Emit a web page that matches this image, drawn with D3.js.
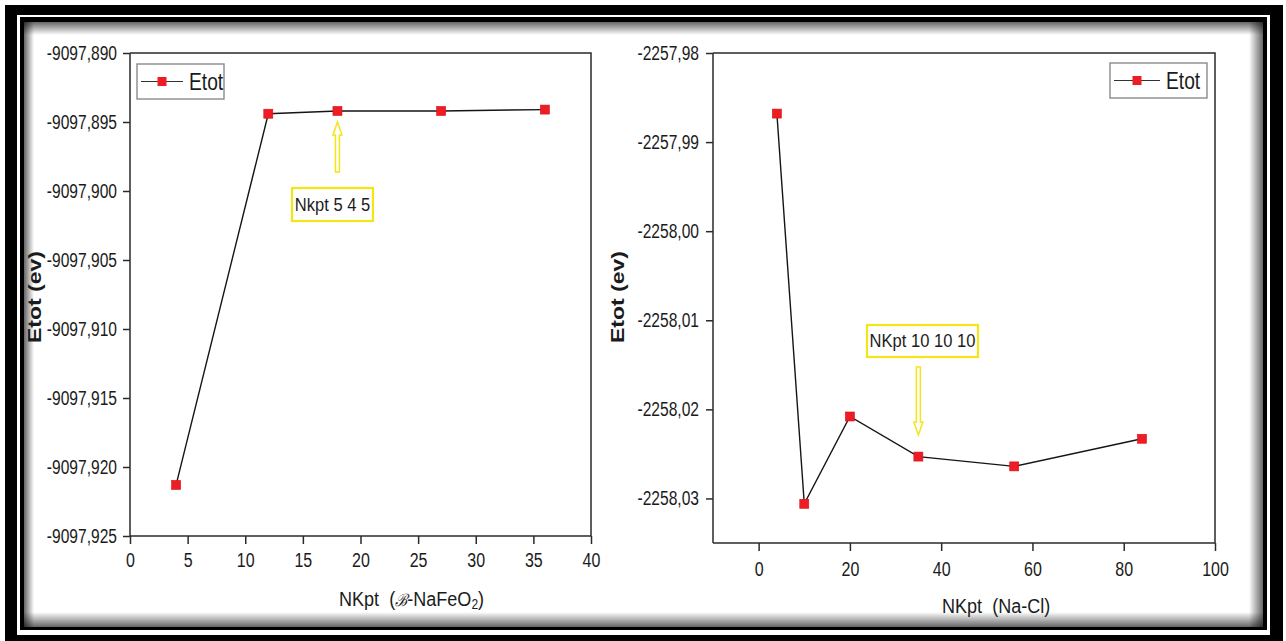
<!DOCTYPE html>
<html>
<head>
<meta charset="utf-8">
<script src="https://cdn.jsdelivr.net/npm/d3@7"></script>
<style>
  html, body { margin: 0; padding: 0; background: #ffffff; }
  svg { display: block; }
  text { font-family: "Liberation Sans", Arial, sans-serif; fill: #1b1b1b; }
</style>
</head>
<body>
<svg id="chart" width="1286" height="641"></svg>
<script>
// ---- data ----
const nkptNaFeO2 = [4, 12, 18, 27, 36];
const etotNaFeO2 = [-9097.9213, -9097.8944, -9097.8942, -9097.8942, -9097.8941];

const nkptNaCl = [4, 10, 20, 35, 56, 84];
const etotNaCl = [-2257.9868, -2258.0306, -2258.0208, -2258.0253, -2258.0264, -2258.0233];

const xTicksNaFeO2 = [0, 5, 10, 15, 20, 25, 30, 35, 40];
const yTicksNaFeO2 = [-9097.925, -9097.920, -9097.915, -9097.910, -9097.905, -9097.900, -9097.895, -9097.890];
const xTicksNaCl = [0, 20, 40, 60, 80, 100];
const yTicksNaCl = [-2258.03, -2258.02, -2258.01, -2258.00, -2257.99, -2257.98];

const seriesName = "Etot";
const yTitle = "Etot (ev)";
const noteNaFeO2 = "Nkpt 5 4 5";
const noteNaCl = "NKpt 10 10 10";

// ---- setup ----
const svg = d3.select("#chart");
const SQ = 0.8;               // horizontal squeeze used for all text
const RED = "#ee1c25";
const YEL = "#f4e516";
const locale = d3.formatLocale({decimal: ",", thousands: "", grouping: [3], currency: ["", ""], minus: "-"});

// ---- page frame ----
const defs = svg.append("defs");
function edgeGrad(id, x1, y1, x2, y2) {
  const g = defs.append("linearGradient").attr("id", id)
    .attr("x1", x1).attr("y1", y1).attr("x2", x2).attr("y2", y2);
  g.append("stop").attr("offset", "0%").attr("stop-color", "#000").attr("stop-opacity", 0.6);
  g.append("stop").attr("offset", "100%").attr("stop-color", "#000").attr("stop-opacity", 0);
}
edgeGrad("gTop", 0, 0, 0, 1);
edgeGrad("gBot", 0, 1, 0, 0);
edgeGrad("gLeft", 0, 0, 1, 0);
edgeGrad("gRight", 1, 0, 0, 0);

svg.append("rect").attr("x", 5).attr("y", 5).attr("width", 1278).attr("height", 636).attr("fill", "#000");
svg.append("rect").attr("x", 17).attr("y", 15).attr("width", 1253).attr("height", 620).attr("fill", "#fff");
svg.append("rect").attr("x", 20).attr("y", 17).attr("width", 1247).attr("height", 613).attr("fill", "#000");
const IN = {x0: 24, y0: 22, x1: 1263, y1: 627};
svg.append("rect").attr("x", IN.x0).attr("y", IN.y0).attr("width", IN.x1 - IN.x0).attr("height", IN.y1 - IN.y0).attr("fill", "#fff");
svg.append("rect").attr("x", IN.x0).attr("y", IN.y0).attr("width", IN.x1 - IN.x0).attr("height", 13).attr("fill", "url(#gTop)");
svg.append("rect").attr("x", IN.x0).attr("y", IN.y1 - 15).attr("width", IN.x1 - IN.x0).attr("height", 15).attr("fill", "url(#gBot)");
svg.append("rect").attr("x", IN.x0).attr("y", IN.y0).attr("width", 10).attr("height", IN.y1 - IN.y0).attr("fill", "url(#gLeft)");
svg.append("rect").attr("x", IN.x1 - 14).attr("y", IN.y0).attr("width", 14).attr("height", IN.y1 - IN.y0).attr("fill", "url(#gRight)");

// squeezed text helper
function sText(parent, x, y, str, size, anchor, sq) {
  return parent.append("text")
    .attr("transform", `translate(${x},${y}) scale(${sq || SQ},1)`)
    .attr("font-size", size)
    .attr("text-anchor", anchor || "start")
    .attr("xml:space", "preserve")
    .style("white-space", "pre")
    .text(str);
}

function midpoints(arr) {
  const out = [];
  for (let i = 0; i < arr.length - 1; i++) out.push((arr[i] + arr[i + 1]) / 2);
  return out;
}

// ---- one panel ----
function panel(cfg) {
  const g = svg.append("g");
  const x = d3.scaleLinear().domain(cfg.xDomain).range(cfg.xRange);
  const y = d3.scaleLinear().domain(cfg.yDomain).range(cfg.yRange);
  const [xl, xr] = cfg.xRange;
  const [yb, yt] = cfg.yRange;

  // frame top / right
  g.append("path")
    .attr("d", `M${xl},${yt}H${xr}V${yb}`)
    .attr("fill", "none").attr("stroke", "#2a2a2a").attr("stroke-width", 1.5);

  // x axis
  const gx = g.append("g").attr("transform", `translate(0,${yb})`);
  gx.call(d3.axisBottom(x).tickValues(cfg.xMinor).tickSize(5).tickSizeOuter(0).tickFormat(""));
  gx.call(d3.axisBottom(x).tickValues(cfg.xTicks).tickSize(8).tickSizeOuter(0).tickPadding(cfg.xPad));
  gx.selectAll("path.domain").attr("d", `M${xl},0H${xr}`).attr("stroke", "#2a2a2a").attr("stroke-width", 1.5);
  gx.selectAll(".tick line").attr("stroke", "#2a2a2a").attr("stroke-width", 1.5);
  gx.selectAll(".tick text")
    .attr("font-size", 20).attr("font-family", "Liberation Sans, Arial, sans-serif").attr("fill", "#222")
    .each(function () {
      const t = d3.select(this);
      const yy = +t.attr("y");
      t.attr("y", null).attr("transform", `translate(0,${yy}) scale(${SQ},1)`);
    });

  // y axis
  const yMinor = midpoints(cfg.yTicks).concat(cfg.yExtraMinor || []);
  const gy = g.append("g").attr("transform", `translate(${xl},0)`);
  gy.call(d3.axisLeft(y).tickValues(yMinor).tickSize(4).tickSizeOuter(0).tickFormat(""));
  gy.call(d3.axisLeft(y).tickValues(cfg.yTicks).tickSize(7).tickSizeOuter(0)
    .tickFormat(locale.format(cfg.yFmt)));
  gy.selectAll("path.domain").attr("d", `M0,${yb}V${yt}`).attr("stroke", "#2a2a2a").attr("stroke-width", 1.5);
  gy.selectAll(".tick line").attr("stroke", "#2a2a2a").attr("stroke-width", 1.5);
  gy.selectAll(".tick text")
    .attr("font-size", 19.5).attr("font-family", "Liberation Sans, Arial, sans-serif").attr("fill", "#222")
    .attr("x", -cfg.yPad / SQ)
    .attr("transform", `scale(${SQ},1)`);

  // axis titles
  g.append("text")
    .attr("transform", `translate(${cfg.yTitleX},${cfg.yTitleY}) rotate(-90) scale(1,${SQ})`)
    .attr("text-anchor", "middle").attr("font-size", 23).attr("font-weight", "bold")
    .attr("fill", "#1b1b1b").text(yTitle);

  cfg.xTitle(g);

  // series
  const pts = cfg.xs.map((d, i) => [d, cfg.ys[i]]);
  g.append("path").datum(pts)
    .attr("d", d3.line().x(d => x(d[0])).y(d => y(d[1])))
    .attr("fill", "none").attr("stroke", "#151515").attr("stroke-width", 1.4);
  g.selectAll("rect.pt").data(pts).enter().append("rect").attr("class", "pt")
    .attr("x", d => x(d[0]) - 4.5).attr("y", d => y(d[1]) - 4.5)
    .attr("width", 9).attr("height", 9)
    .attr("fill", RED).attr("stroke", "#d81018").attr("stroke-width", 0.6);

  // legend
  const L = cfg.legend;
  const lg = g.append("g").attr("transform", `translate(${L.x},${L.y})`);
  lg.append("rect").attr("width", L.w).attr("height", L.h)
    .attr("fill", "#fff").attr("stroke", "#8a8a8a").attr("stroke-width", 1.4);
  lg.append("line").attr("x1", 4).attr("x2", L.lineEnd).attr("y1", L.h / 2).attr("y2", L.h / 2)
    .attr("stroke", "#333").attr("stroke-width", 1.2);
  lg.append("rect").attr("x", L.lineEnd / 2 + 2 - 4.5).attr("y", L.h / 2 - 4.5)
    .attr("width", 9).attr("height", 9).attr("fill", RED);
  sText(lg, L.lineEnd + 6, L.h / 2 + 8.5, seriesName, 24);

  // annotation
  const A = cfg.note;
  g.append("rect").attr("x", A.x).attr("y", A.y).attr("width", A.w).attr("height", A.h)
    .attr("fill", "#fff").attr("stroke", YEL).attr("stroke-width", 2.2);
  g.append("text")
    .attr("transform", `translate(${A.x + A.w / 2},${A.y + A.h / 2 + 6}) scale(0.92,1)`)
    .attr("text-anchor", "middle").attr("font-family", "Lato, 'Open Sans', sans-serif")
    .attr("font-size", 18).attr("fill", "#1e1e1e").text(A.text);

  // arrow pointing to the chosen k-point
  const ax = x(A.px), tip = A.tip, tail = A.tail, dir = Math.sign(tail - tip);
  const head = tip + dir * 13;
  g.append("path")
    .attr("d", `M${ax},${tip} L${ax + 4.5},${head} L${ax + 2},${head} L${ax + 2},${tail} L${ax - 2},${tail} L${ax - 2},${head} L${ax - 4.5},${head} Z`)
    .attr("fill", "#fff").attr("stroke", YEL).attr("stroke-width", 1.5);
}

// β-NaFeO2
panel({
  xs: nkptNaFeO2, ys: etotNaFeO2,
  xDomain: [0, 40], xRange: [130, 591],
  yDomain: [-9097.925, -9097.890], yRange: [536, 53],
  xTicks: xTicksNaFeO2, xMinor: midpoints(xTicksNaFeO2), xPad: 9,
  yTicks: yTicksNaFeO2, yFmt: ".3f", yPad: 13,
  yTitleX: 41, yTitleY: 297,
  xTitle: function (g) {
    const t = g.append("text")
      .attr("transform", `translate(339,606) scale(0.86,1)`)
      .attr("xml:space", "preserve").style("white-space", "pre")
      .attr("font-size", 21).attr("fill", "#1b1b1b");
    t.append("tspan").text("NKpt\u00a0\u00a0(");
    t.append("tspan").attr("font-size", 17).attr("font-style", "italic")
      .attr("font-family", "DejaVu Serif, serif").text("ℬ");
    t.append("tspan").text("-NaFeO");
    t.append("tspan").attr("font-size", 14).attr("dy", 3).text("2");
    t.append("tspan").attr("dy", -3).text(")");
  },
  legend: {x: 137, y: 64, w: 87, h: 35, lineEnd: 46},
  note: {x: 292, y: 188, w: 81, h: 33, text: noteNaFeO2, px: 18, tip: 122, tail: 172}
});

// NaCl
panel({
  xs: nkptNaCl, ys: etotNaCl,
  xDomain: [-10, 100], xRange: [713, 1215],
  yDomain: [-2258.035, -2257.98], yRange: [543, 53],
  xTicks: xTicksNaCl, xMinor: [-10, 10, 30, 50, 70, 90], xPad: 11,
  yTicks: yTicksNaCl, yFmt: ".2f", yPad: 14, yExtraMinor: [-2258.035],
  yTitleX: 624, yTitleY: 297,
  xTitle: function (g) {
    sText(g, 942, 613, "NKpt\u00a0\u00a0(Na-Cl)", 21, "start", 0.86);
  },
  legend: {x: 1110, y: 63, w: 97, h: 35, lineEnd: 50},
  note: {x: 867, y: 325, w: 111, h: 32, text: noteNaCl, px: 35, tip: 435, tail: 367}
});
</script>
</body>
</html>
